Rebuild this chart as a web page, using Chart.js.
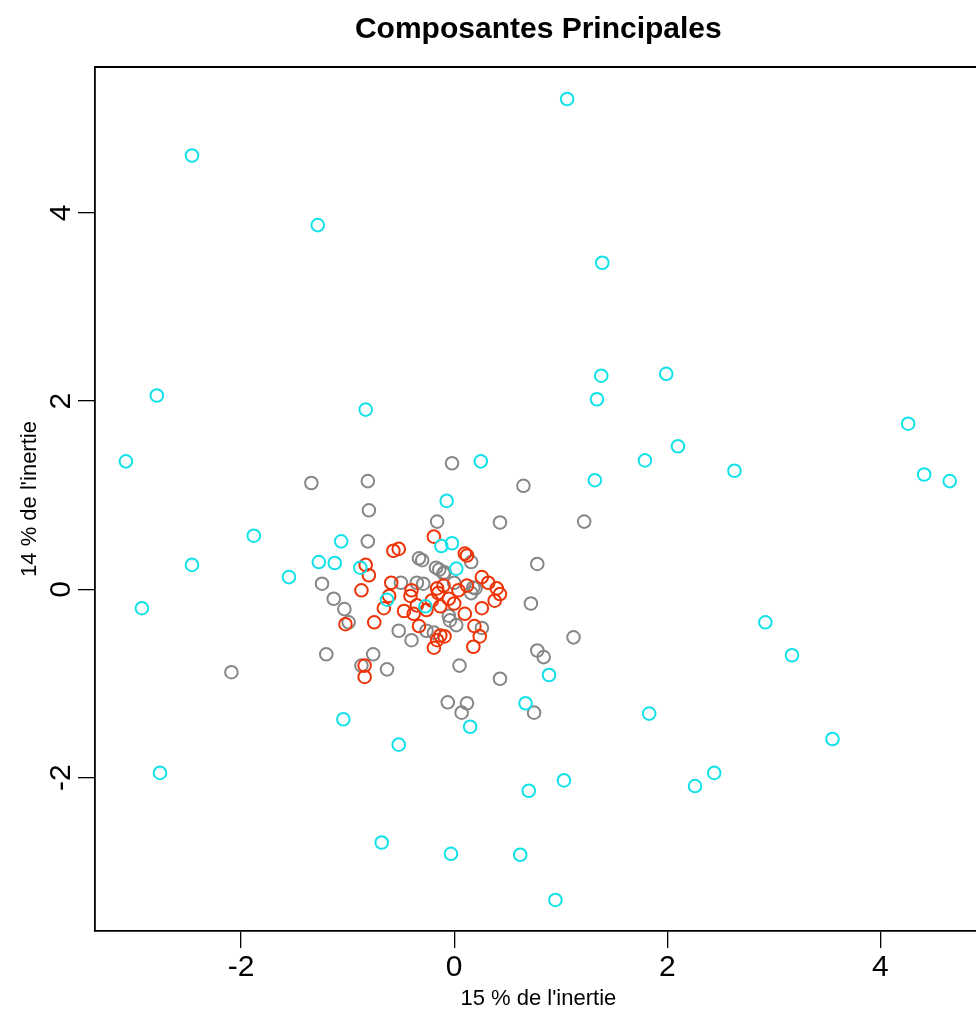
<!DOCTYPE html>
<html>
<head>
<meta charset="utf-8">
<script src="https://cdn.jsdelivr.net/npm/chart.js@4/dist/chart.umd.min.js"></script>
<style>
  html, body { margin: 0; padding: 0; background: #fff; overflow: hidden; }
  canvas { display: block; }
</style>
</head>
<body>
<canvas id="acp" width="990" height="1010" style="width:990px;height:1010px"></canvas>
<script>
const title = 'Composantes Principales'
const xTitle = "15 % de l'inertie"
const yTitle = "14 % de l'inertie"
const xTicks = [-2, 0, 2, 4]
const yTicks = [-2, 0, 2, 4]

// individuals on the first factorial plane, one array per group
const cyanPts = [
  [1.06, 5.21], [-2.46, 4.61], [-1.28, 3.87], [1.39, 3.47], [-2.79, 2.06], [-0.83, 1.91],
  [1.38, 2.27], [1.34, 2.02], [1.99, 2.29], [-3.08, 1.36], [0.25, 1.36], [1.79, 1.37],
  [2.10, 1.52], [1.32, 1.16], [2.63, 1.26], [4.26, 1.76], [4.41, 1.22], [4.65, 1.15],
  [-0.07, 0.94], [-1.88, 0.57], [-1.06, 0.51], [-0.12, 0.46], [-0.02, 0.49], [-2.46, 0.26],
  [-1.55, 0.13], [-1.27, 0.29], [-1.12, 0.28], [-2.93, -0.20], [-0.88, 0.23], [0.02, 0.22],
  [-0.63, -0.11], [-0.27, -0.18], [-1.04, -1.38], [0.89, -0.91], [0.67, -1.21], [0.15, -1.46],
  [-0.52, -1.65], [-2.76, -1.95], [1.03, -2.03], [0.70, -2.14], [2.26, -2.09], [2.44, -1.95],
  [1.83, -1.32], [2.92, -0.35], [3.17, -0.70], [3.55, -1.59], [-0.68, -2.69], [-0.03, -2.81],
  [0.62, -2.82], [0.95, -3.30]
]
const grayPts = [
  [-0.02, 1.34], [-1.34, 1.13], [-0.81, 1.15], [0.65, 1.10], [-0.80, 0.84], [0.43, 0.71],
  [1.22, 0.72], [-0.16, 0.72], [-0.81, 0.51], [0.78, 0.27], [-1.24, 0.06], [-1.13, -0.10],
  [-1.03, -0.21], [-0.99, -0.35], [0.72, -0.15], [1.12, -0.51], [0.78, -0.65], [0.84, -0.72],
  [-1.20, -0.69], [-0.76, -0.69], [-2.09, -0.88], [-0.87, -0.81], [-0.63, -0.85], [0.05, -0.81],
  [0.43, -0.95], [-0.06, -1.20], [0.12, -1.21], [0.07, -1.31], [0.75, -1.31], [-0.52, -0.44],
  [-0.40, -0.54], [-0.26, -0.44], [-0.33, 0.33], [-0.30, 0.31], [-0.17, 0.23], [-0.14, 0.21],
  [-0.35, 0.07], [-0.29, 0.06], [-0.50, 0.07], [-0.10, 0.17], [0.16, 0.29], [0.18, 0.02],
  [0.20, 0.01], [-0.09, 0.18], [0.00, 0.07], [0.16, -0.04], [-0.04, -0.33], [0.02, -0.38],
  [0.26, -0.41], [-0.19, -0.46], [-0.05, -0.28]
]
const redPts = [
  [-0.19, 0.56], [-0.83, 0.26], [-0.57, 0.41], [-0.52, 0.43], [-0.80, 0.15], [-0.87, -0.01],
  [0.10, 0.38], [0.26, 0.13], [0.43, -0.05], [-0.61, -0.07], [-0.59, 0.07], [-1.02, -0.37],
  [-0.75, -0.35], [-0.66, -0.20], [-0.84, -0.81], [-0.84, -0.93], [-0.19, -0.62], [-0.13, -0.49],
  [0.18, -0.61], [0.24, -0.50], [0.26, -0.20], [0.10, -0.26], [-0.40, -0.01], [-0.16, 0.01],
  [-0.15, -0.04], [0.12, 0.36], [0.32, 0.07], [0.12, 0.04], [0.40, 0.01], [-0.47, -0.23],
  [-0.38, -0.26], [-0.35, -0.17], [-0.21, -0.12], [-0.33, -0.39], [-0.16, -0.54], [-0.05, -0.10],
  [0.00, -0.15], [0.38, -0.12], [0.19, -0.39], [-0.09, -0.50], [-0.41, -0.07], [-0.10, 0.04],
  [0.04, -0.01], [-0.26, -0.22], [-0.13, -0.18]
]

const FONT = '"Liberation Sans", Arial, Helvetica, sans-serif'

function toXY(pts) {
  return pts.map(p => ({ x: p[0], y: p[1] }))
}

function ring(pts, color) {
  return {
    data: toXY(pts),
    borderColor: color,
    backgroundColor: 'rgba(0,0,0,0)',
    borderWidth: 2,
    pointRadius: 6.3,
    pointHoverRadius: 6.3,
    showLine: false
  }
}

// box top/right, title, tick labels and axis titles drawn R-style
const frame = {
  id: 'frame',
  afterDraw(chart) {
    const { ctx, chartArea: a, scales } = chart
    ctx.save()
    ctx.strokeStyle = '#000'
    ctx.lineWidth = 1.8
    ctx.beginPath()
    ctx.moveTo(a.left, a.top)
    ctx.lineTo(a.right, a.top)
    ctx.lineTo(a.right, a.bottom)
    ctx.stroke()

    ctx.fillStyle = '#000'
    ctx.textAlign = 'center'
    ctx.textBaseline = 'middle'

    ctx.font = 'bold 30px ' + FONT
    ctx.fillText(title, (a.left + a.right) / 2, 30)

    ctx.font = '30px ' + FONT
    xTicks.forEach(v => {
      ctx.fillText(String(v), scales.x.getPixelForValue(v), 968)
    })
    yTicks.forEach(v => {
      ctx.save()
      ctx.translate(62, scales.y.getPixelForValue(v))
      ctx.rotate(-Math.PI / 2)
      ctx.fillText(String(v), 0, 0)
      ctx.restore()
    })

    ctx.font = '22px ' + FONT
    ctx.fillText(xTitle, (a.left + a.right) / 2, 999)
    ctx.save()
    ctx.translate(30, (a.top + a.bottom) / 2)
    ctx.rotate(-Math.PI / 2)
    ctx.fillText(yTitle, 0, 0)
    ctx.restore()
    ctx.restore()
  }
}

function axis(min, max, ticks, size, isX) {
  return {
    type: 'linear',
    min,
    max,
    afterBuildTicks: s => { s.ticks = ticks.map(v => ({ value: v })) },
    afterFit: s => { if (isX) s.height = size; else s.width = size },
    ticks: { display: false },
    grid: { drawOnChartArea: false, drawTicks: true, tickLength: 17, color: '#000', lineWidth: 1.3 },
    border: { display: true, color: '#000', width: 1.8 }
  }
}

new Chart(document.getElementById('acp').getContext('2d'), {
  type: 'scatter',
  data: {
    datasets: [
      ring(cyanPts, '#12E2E8'),
      ring(redPts, '#EE3308'),
      ring(grayPts, '#878787')
    ]
  },
  options: {
    responsive: false,
    animation: false,
    events: [],
    layout: { padding: { top: 67, right: 5, left: 0, bottom: 0 } },
    plugins: { legend: { display: false }, tooltip: { enabled: false }, title: { display: false } },
    scales: {
      x: axis(-3.37, 4.95, xTicks, 79, true),
      y: axis(-3.63, 5.55, yTicks, 95, false)
    }
  },
  plugins: [frame]
})
</script>
</body>
</html>
